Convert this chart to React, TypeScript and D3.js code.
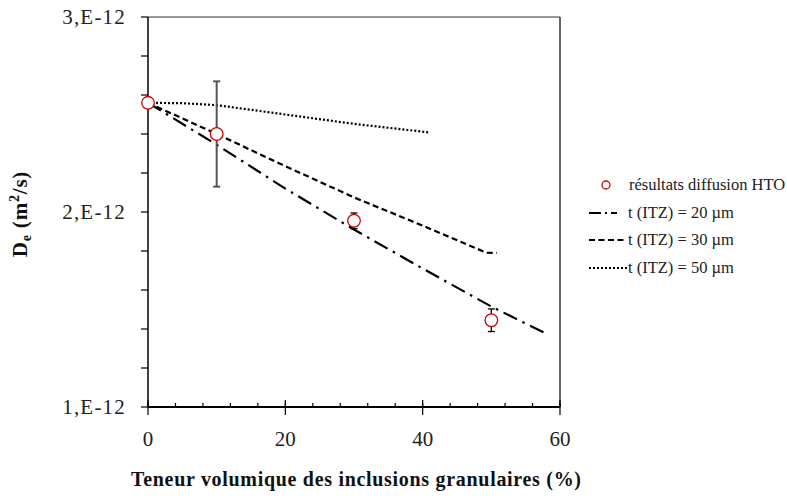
import React from "react";
import * as d3 from "d3";

// Measured data (x: % volume of inclusions, y: De in 1E-12 m²/s)
const measX = [0, 10, 30, 50];
const measY = [2.56, 2.4, 1.955, 1.445];
const measErr = [0, 0.27, 0.04, 0.058];

// Model curves
const t20X = [0, 10, 20, 30, 40, 50, 57.6];
const t20Y = [2.56, 2.345, 2.12, 1.91, 1.71, 1.515, 1.383];
const t30X = [0, 10, 20, 30, 40, 49.3, 50.8];
const t30Y = [2.56, 2.4, 2.235, 2.075, 1.93, 1.791, 1.79];
const t50X = [0, 5, 10, 20, 30, 41];
const t50Y = [2.56, 2.558, 2.548, 2.5, 2.452, 2.408];

const xTicks = [0, 20, 40, 60];
const yTicks = [1, 2, 3];
const yTickLabels = ["1,E-12", "2,E-12", "3,E-12"];
const legendLabels = [
  "résultats diffusion HTO",
  "t (ITZ) = 20 µm",
  "t (ITZ) = 30 µm",
  "t (ITZ) = 50 µm",
];

const W = 787;
const H = 502;
const L = 148, R = 560, T = 17, B = 407;
const FONT = '"Liberation Serif", "DejaVu Serif", "Noto Serif", "Times New Roman", serif';

export default function App() {
  const x = d3.scaleLinear().domain([0, 60]).range([L, R]);
  const y = d3.scaleLinear().domain([1, 3]).range([B, T]);
  const line = d3
    .line<[number, number]>()
    .x((d) => x(d[0]))
    .y((d) => y(d[1]))
    .curve(d3.curveLinear);

  const zip = (a: number[], b: number[]) => a.map((v, i) => [v, b[i]] as [number, number]);

  const xMinor = d3.range(0, 60.001, 4);
  const yMinor = d3.range(1, 3.001, 0.2);

  const styles = [
    { dash: "15,6,2.5,6", w: 2.2 },
    { dash: "6,3.5", w: 2.2 },
    { dash: "2,2", w: 2.2 },
  ];
  const curves = [zip(t20X, t20Y), zip(t30X, t30Y), zip(t50X, t50Y)];
  const legY = [185, 213, 240, 268];

  return (
    <svg
      width={W}
      height={H}
      style={{ position: "absolute", left: 0, top: 0, background: "#fff", fontFamily: FONT }}
    >
      <rect x={0} y={0} width={W} height={H} fill="#fff" />
      {/* frame */}
      <line x1={L} x2={R} y1={T} y2={T} stroke="#777" strokeWidth={1.5} />
      <line x1={R} x2={R} y1={T} y2={B} stroke="#333" strokeWidth={1.5} />
      {/* y axis */}
      <line x1={L} x2={L} y1={T} y2={B} stroke="#000" strokeWidth={1.5} />
      {yMinor.map((v, i) => (
        <line key={"ym" + i} x1={L - 7} x2={L} y1={y(v)} y2={y(v)} stroke="#000" strokeWidth={1.2} />
      ))}
      {yTicks.map((v, i) => (
        <text
          key={"yt" + i}
          x={126}
          y={y(v)}
          dy="0.35em"
          textAnchor="end"
          fontSize={21}
          letterSpacing={1.2}
          fill="#222"
          style={{ fontFamily: FONT }}
        >
          {yTickLabels[i]}
        </text>
      ))}
      {/* x axis */}
      <line x1={L} x2={R} y1={B} y2={B} stroke="#000" strokeWidth={2} />
      {xMinor.map((v, i) => (
        <line key={"xm" + i} x1={x(v)} x2={x(v)} y1={B - 4} y2={B} stroke="#000" strokeWidth={1.2} />
      ))}
      {xTicks.map((v, i) => (
        <g key={"xt" + i}>
          <line x1={x(v)} x2={x(v)} y1={B - 7} y2={B + 8} stroke="#000" strokeWidth={1.2} />
          <text x={x(v)} y={446} textAnchor="middle" fontSize={21} fill="#222" style={{ fontFamily: FONT }}>
            {v}
          </text>
        </g>
      ))}
      {/* titles */}
      <text
        x={356}
        y={486}
        textAnchor="middle"
        fontSize={20}
        fontWeight="bold"
        textLength={450}
        lengthAdjust="spacing"
        fill="#111"
        style={{ fontFamily: FONT }}
      >
        Teneur volumique des inclusions granulaires (%)
      </text>
      <text
        transform="translate(27,214) rotate(-90)"
        textAnchor="middle"
        fontSize={21}
        fontWeight="bold"
        letterSpacing={0.8}
        fill="#111"
        style={{ fontFamily: FONT }}
      >
        D<tspan fontSize={14} dy={4}>e</tspan>
        <tspan dy={-4}> (m</tspan>
        <tspan fontSize={14} dy={-8}>2</tspan>
        <tspan dy={8}>/s)</tspan>
      </text>
      {/* model curves */}
      {curves.map((c, i) => (
        <path
          key={"c" + i}
          d={line(c) || ""}
          fill="none"
          stroke="#000"
          strokeWidth={styles[i].w}
          strokeDasharray={styles[i].dash}
        />
      ))}
      {/* error bars */}
      {measX.map((v, i) =>
        measErr[i] > 0 ? (
          <g key={"e" + i} stroke={i === 1 ? "#555" : "#000"} strokeWidth={i === 1 ? 2 : 1.3}>
            <line x1={x(v)} x2={x(v)} y1={y(measY[i] - measErr[i])} y2={y(measY[i] + measErr[i])} />
            <line x1={x(v) - 3.5} x2={x(v) + 3.5} y1={y(measY[i] - measErr[i])} y2={y(measY[i] - measErr[i])} />
            <line x1={x(v) - 3.5} x2={x(v) + 3.5} y1={y(measY[i] + measErr[i])} y2={y(measY[i] + measErr[i])} />
          </g>
        ) : null
      )}
      {/* points */}
      {measX.map((v, i) => (
        <circle key={"p" + i} cx={x(v)} cy={y(measY[i])} r={6.3} fill="#fff" stroke="#d40000" strokeWidth={1.3} />
      ))}
      {/* legend */}
      <circle cx={606} cy={legY[0]} r={4} fill="#fff" stroke="#d40000" strokeWidth={1.3} />
      {styles.map((s, i) => (
        <line
          key={"ll" + i}
          x1={589}
          x2={627}
          y1={legY[i + 1]}
          y2={legY[i + 1]}
          stroke="#000"
          strokeWidth={s.w}
          strokeDasharray={i === 0 ? "12,4,2,4,6" : s.dash}
        />
      ))}
      {legendLabels.map((t, i) => (
        <text
          key={"lt" + i}
          x={i === 0 ? 629 : 628}
          y={legY[i] + 5}
          fontSize={16.5}
          fill="#222"
          style={{ fontFamily: FONT }}
        >
          {t}
        </text>
      ))}
    </svg>
  );
}
